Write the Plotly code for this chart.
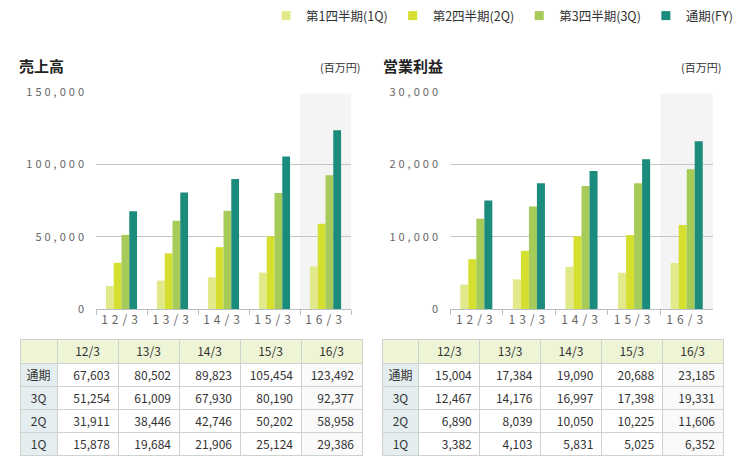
import plotly.graph_objects as go

W, H = 747, 463

categories = ["12/3", "13/3", "14/3", "15/3", "16/3"]
series_names = ["第1四半期(1Q)", "第2四半期(2Q)", "第3四半期(3Q)", "通期(FY)"]
row_labels = ["通期", "3Q", "2Q", "1Q"]

sales_1q = [15878, 19684, 21906, 25124, 29386]
sales_2q = [31911, 38446, 42746, 50202, 58958]
sales_3q = [51254, 61009, 67930, 80190, 92377]
sales_fy = [67603, 80502, 89823, 105454, 123492]

op_1q = [3382, 4103, 5831, 5025, 6352]
op_2q = [6890, 8039, 10050, 10225, 11606]
op_3q = [12467, 14176, 16997, 17398, 19331]
op_fy = [15004, 17384, 19090, 20688, 23185]

colors = ["#e1e98b", "#d4df30", "#a7cb58", "#1b8b7b"]

def px(x):
    return x / W

def py(y):
    return 1 - y / H

fig = go.Figure()

for name, vals, c in zip(series_names, [sales_1q, sales_2q, sales_3q, sales_fy], colors):
    fig.add_trace(go.Bar(x=categories, y=vals, name=name, marker=dict(color=c, line=dict(width=0)),
                         xaxis="x", yaxis="y", legendgroup=name, showlegend=False, hoverinfo="y"))
for name, vals, c in zip(series_names, [op_1q, op_2q, op_3q, op_fy], colors):
    fig.add_trace(go.Bar(x=categories, y=vals, name=name, marker=dict(color=c, line=dict(width=0)),
                         xaxis="x2", yaxis="y2", legendgroup=name, showlegend=False, hoverinfo="y"))
# legend entries (small square keys)
for name, c in zip(series_names, colors):
    fig.add_trace(go.Scatter(x=[None], y=[None], mode="markers", name=name, legendgroup=name,
                             marker=dict(symbol="square", size=9, color=c),
                             xaxis="x", yaxis="y", hoverinfo="skip"))

def fmt(v):
    return f"{v:,}"

def table(fy, q3, q2, q1, x0, x1):
    cols = [row_labels] + [[fmt(fy[i]), fmt(q3[i]), fmt(q2[i]), fmt(q1[i])] for i in range(len(categories))]
    fills = [["#e4eef0"] * 4] + [["#ffffff"] * 4] * 4 + [["#fafafa"] * 4]
    return go.Table(
        domain=dict(x=[px(x0), px(x1)], y=[py(456), py(339)]),
        columnwidth=[37] + [61] * 5,
        header=dict(values=[""] + categories, fill_color="#eef5d7",
                    line=dict(color="#cfd3cf", width=1), align="center",
                    font=dict(family="Noto Sans CJK JP", size=12, color="#333"), height=24),
        cells=dict(values=cols, fill_color=fills, line=dict(color="#cfd3cf", width=1),
                   align=["center"] + ["right"] * 5,
                   font=dict(family="Noto Sans CJK JP", size=12, color="#333"), height=23),
    )

fig.add_trace(table(sales_fy, sales_3q, sales_2q, sales_1q, 20, 362))
fig.add_trace(table(op_fy, op_3q, op_2q, op_1q, 382, 724))

axis_font = dict(family="Noto Sans CJK JP", size=11, color="#666")
xcommon = dict(type="category", showgrid=False, showline=True, linecolor="#b7c0c8", linewidth=1,
               ticks="outside", tickson="boundaries", ticklen=5, tickcolor="#b7c0c8",
               tickfont=dict(family="Noto Sans CJK JP", size=12, color="#666"), fixedrange=True,
               automargin=False)
ycommon = dict(showgrid=True, gridcolor="#c4c4c4", gridwidth=1, zeroline=False, showline=False,
               tickformat=",d", tickfont=axis_font, ticklabelstandoff=8, fixedrange=True,
               automargin=False)

fig.update_layout(
    width=W, height=H, margin=dict(l=0, r=0, t=0, b=0, autoexpand=False),
    paper_bgcolor="white", plot_bgcolor="rgba(0,0,0,0)",
    barmode="group", bargap=0.39, bargroupgap=0,
    font=dict(family="Noto Sans CJK JP", color="#333"),
    xaxis=dict(domain=[px(96), px(351)], anchor="y", **xcommon),
    yaxis=dict(domain=[py(309), py(92)], anchor="x", range=[0, 150000], dtick=50000, **ycommon),
    xaxis2=dict(domain=[px(450), px(713)], anchor="y2", **xcommon),
    yaxis2=dict(domain=[py(309), py(92)], anchor="x2", range=[0, 30000], dtick=10000, **ycommon),
    legend=dict(orientation="h", x=0.988, xanchor="right", y=1 - 1 / H, yanchor="top",
                font=dict(family="Noto Sans CJK JP", size=12.5, color="#333"), itemwidth=30,
                bgcolor="rgba(0,0,0,0)", traceorder="normal"),
    shapes=[
        dict(type="rect", xref="x", yref="y", x0=3.5, x1=4.5, y0=0, y1=149000,
             fillcolor="#f4f4f5", line=dict(width=0), layer="below"),
        dict(type="rect", xref="x2", yref="y2", x0=3.5, x1=4.5, y0=0, y1=29800,
             fillcolor="#f4f4f5", line=dict(width=0), layer="below"),
    ],
    annotations=[
        dict(text="<b>売上高</b>", x=px(17), y=py(66), xref="paper", yref="paper", xanchor="left",
             yanchor="middle", showarrow=False, font=dict(size=15, color="#222")),
        dict(text="(百万円)", x=px(362), y=py(67), xref="paper", yref="paper", xanchor="right",
             yanchor="middle", showarrow=False, font=dict(size=11, color="#333")),
        dict(text="<b>営業利益</b>", x=px(381), y=py(66), xref="paper", yref="paper", xanchor="left",
             yanchor="middle", showarrow=False, font=dict(size=15, color="#222")),
        dict(text="(百万円)", x=px(723), y=py(67), xref="paper", yref="paper", xanchor="right",
             yanchor="middle", showarrow=False, font=dict(size=11, color="#333")),
    ],
)

post = """
document.body.style.margin = '0';
document.body.style.overflow = 'hidden';
var gd = document.getElementById('{plot_id}');
gd.querySelectorAll('.ytick text, .y2tick text').forEach(function(t){ t.style.letterSpacing = '3px'; });
gd.querySelectorAll('.xtick text, .x2tick text').forEach(function(t){ t.style.letterSpacing = '4px'; });
"""

fig.write_html("out.html", post_script=post, config={"displayModeBar": False})
